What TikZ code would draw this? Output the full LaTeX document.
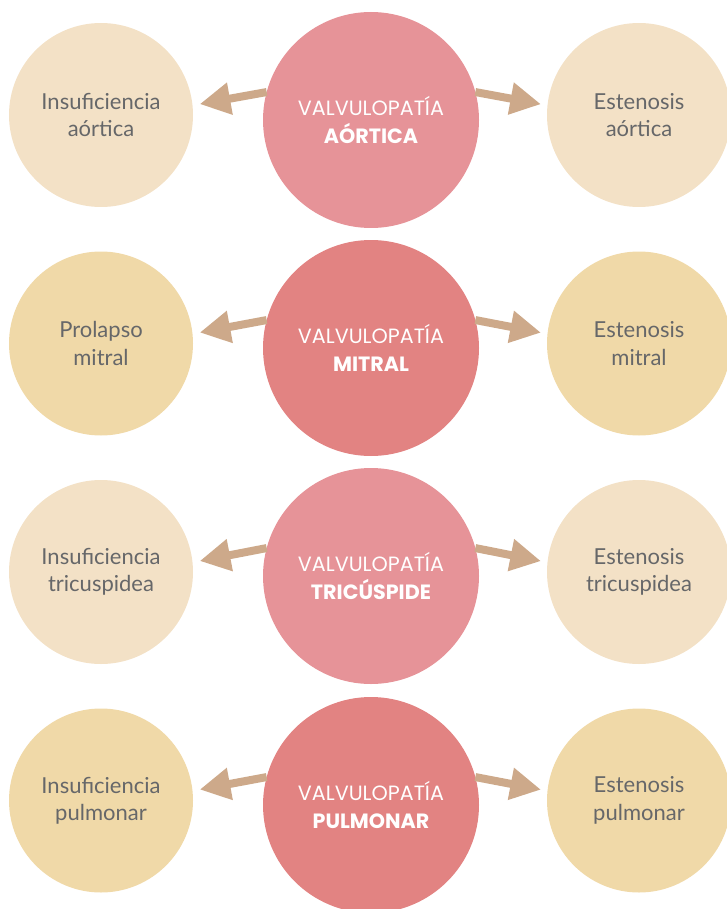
\documentclass[tikz,border=0pt]{standalone}
\usepackage{fontspec}
\setmainfont{Lato}
\newfontfamily\titrefont{Poppins}
\usetikzlibrary{arrows.meta}
\definecolor{roseclair}{HTML}{E69398}
\definecolor{rosefonce}{HTML}{E28382}
\definecolor{beigeclair}{HTML}{F3E1C6}
\definecolor{beigejaune}{HTML}{F0D9A8}
\definecolor{brun}{HTML}{CDA98A}
\definecolor{gristexte}{HTML}{666769}

\begin{document}
\begin{tikzpicture}[x=0.75pt,y=-0.75pt]
\tikzset{centre/.style={circle, minimum size=162pt, inner sep=0pt, outer sep=0pt, text=white, align=center, font=\titrefont\fontsize{15.5}{21}\selectfont}}
\tikzset{cote/.style={circle, minimum size=138pt, inner sep=0pt, outer sep=0pt, text=gristexte, align=center, font=\fontsize{16.5}{20.5}\selectfont}}
\tikzset{fleche/.style={draw=brun, line width=6pt, -{Triangle[length=23pt, width=23pt]}}}
\useasboundingbox (0,0) rectangle (726,909);
\node[centre, fill=roseclair] (C1) at (371,120) {VALVULOPATÍA\\\textbf{AÓRTICA}};
\node[centre, fill=rosefonce] (C2) at (371,348) {VALVULOPATÍA\\\textbf{MITRAL}};
\node[centre, fill=roseclair] (C3) at (371,576) {VALVULOPATÍA\\\textbf{TRICÚSPIDE}};
\node[centre, fill=rosefonce] (C4) at (371,805) {VALVULOPATÍA\\\textbf{PULMONAR}};
\node[cote, fill=beigeclair] (G1) at (101,115) {Insuficiencia\\aórtica};
\node[cote, fill=beigeclair] (D1) at (639,115) {Estenosis\\aórtica};
\node[cote, fill=beigejaune] (G2) at (101,343.5) {Prolapso\\mitral};
\node[cote, fill=beigejaune] (D2) at (639,343.5) {Estenosis\\mitral};
\node[cote, fill=beigeclair] (G3) at (101,572) {Insuficiencia\\tricuspidea};
\node[cote, fill=beigeclair] (D3) at (639,572) {Estenosis\\tricuspidea};
\node[cote, fill=beigejaune] (G4) at (101,800.5) {Insuficiencia\\pulmonar};
\node[cote, fill=beigejaune] (D4) at (639,800.5) {Estenosis\\pulmonar};
\draw[fleche, shorten >=5.5pt] (C1.165) -- (G1.6);
\draw[fleche, shorten >=5pt] (C1.15) -- (D1.174);
\draw[fleche, shorten >=5.5pt] (C2.165) -- (G2.6);
\draw[fleche, shorten >=5pt] (C2.15) -- (D2.174);
\draw[fleche, shorten >=5.5pt] (C3.165) -- (G3.6);
\draw[fleche, shorten >=5pt] (C3.15) -- (D3.174);
\draw[fleche, shorten >=5.5pt] (C4.165) -- (G4.6);
\draw[fleche, shorten >=5pt] (C4.15) -- (D4.174);
\end{tikzpicture}
\end{document}
